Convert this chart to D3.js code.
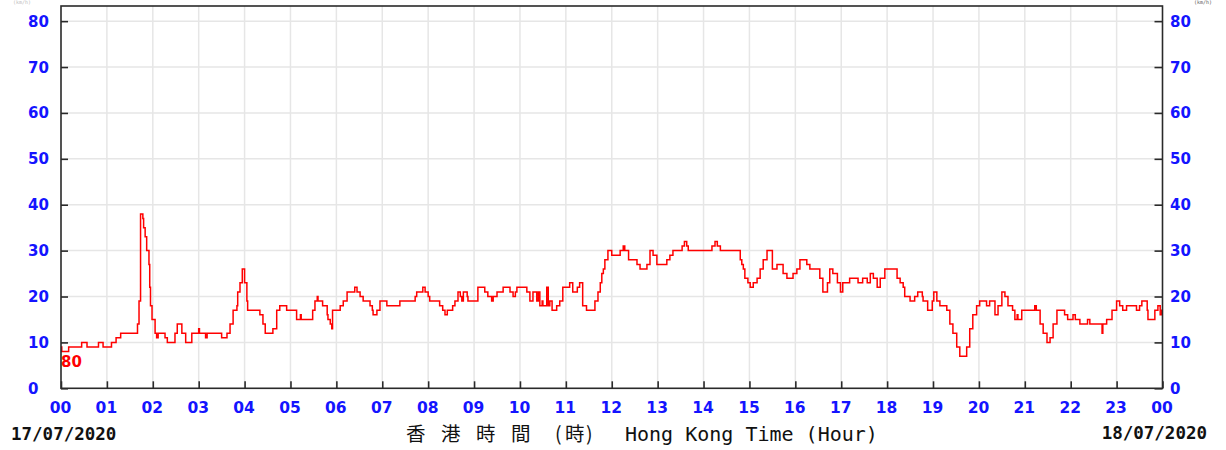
<!DOCTYPE html>
<html>
<head>
<meta charset="utf-8">
<script src="https://cdn.jsdelivr.net/npm/d3@7"></script>
<style>
  html, body { margin: 0; padding: 0; background: #fff; }
  svg { display: block; }
</style>
</head>
<body>
<svg id="chart" width="1226" height="450"></svg>
<script>
// Wind speed (km/h) over one day, minutes after midnight
const minutes = [0,1,10,27,34,49,55,66,72,78,100,102,104,107,108,110,112,115,116,117,119,123,125,127,136,139,149,152,158,163,171,180,181,189,191,210,217,221,225,230,231,234,237,240,243,244,260,264,267,277,282,286,295,308,313,314,329,332,335,336,342,348,349,352,354,355,365,369,374,384,387,391,395,404,407,408,413,417,426,443,463,465,473,476,480,482,495,499,502,505,512,515,519,522,524,526,531,532,545,554,558,563,565,570,578,587,591,594,596,609,613,617,622,624,626,629,630,635,637,639,642,648,652,656,665,669,675,678,682,687,698,702,705,707,709,711,715,720,731,735,737,742,753,757,766,770,774,779,792,796,800,812,815,818,820,851,855,858,862,888,890,892,894,898,901,905,910,914,918,923,930,936,944,949,957,962,966,975,979,992,996,1002,1005,1009,1015,1019,1022,1031,1042,1048,1054,1058,1062,1067,1071,1077,1093,1097,1101,1103,1110,1116,1120,1126,1127,1133,1139,1141,1145,1149,1158,1162,1166,1171,1175,1184,1188,1192,1197,1201,1210,1214,1221,1225,1230,1234,1238,1244,1247,1250,1251,1256,1273,1275,1280,1284,1289,1293,1297,1302,1312,1316,1323,1326,1332,1342,1345,1361,1362,1367,1374,1380,1384,1388,1393,1406,1410,1413,1420,1421,1430,1434,1437,1439,1440];
const speeds = [9,8,9,10,9,10,9,10,11,12,14,19,38,37,35,33,30,27,22,18,15,12,11,12,11,10,12,14,12,10,12,13,12,11,12,11,12,14,17,18,21,23,26,23,19,17,16,14,12,13,17,18,17,15,16,15,17,19,20,19,18,16,15,14,13,17,18,19,21,22,21,20,19,18,17,16,17,19,18,19,20,21,22,21,20,19,18,17,16,17,18,19,21,20,19,21,20,19,22,21,20,19,20,21,22,21,20,21,22,21,19,21,19,21,18,19,18,22,18,19,17,18,19,22,23,21,22,23,18,17,19,21,23,25,26,28,30,29,30,31,30,28,27,26,27,30,29,27,28,29,30,31,32,31,30,31,32,31,30,28,27,26,24,23,22,23,24,26,28,30,26,27,25,24,25,26,28,27,26,24,21,23,26,25,23,21,23,24,23,24,23,25,24,22,24,26,24,23,22,20,19,20,21,20,19,17,19,21,19,18,17,14,12,9,7,9,13,16,18,19,18,19,16,18,21,20,18,17,15,16,15,17,18,17,14,12,10,11,14,17,16,15,16,15,14,15,14,12,14,15,17,19,18,17,18,17,18,19,17,15,17,18,16,17,17];

const hourLabels = ["00","01","02","03","04","05","06","07","08","09","10","11","12","13","14","15","16","17","18","19","20","21","22","23","00"];
const yTicks = [0,10,20,30,40,50,60,70,80];
const startDate = "17/07/2020";
const endDate = "18/07/2020";
const unitLabel = "(km/h)";
const firstValueLabel = "80";
const titleZh = ["香","港","時","間","(","時",")"];
const titleEn = "Hong Kong Time (Hour)";

const svg = d3.select("#chart");
const plot = { left: 61, right: 1162.5, top: 6, bottom: 388.3 };

const x = d3.scaleLinear().domain([0, 1440]).range([plot.left, plot.right]);
const y = d3.scaleLinear().domain([0, 83.3]).range([plot.bottom, plot.top]);

const blue = "#1414ff";
const tickFont = "'DejaVu Sans', sans-serif";

// grid
const grid = svg.append("g");
grid.selectAll("line.v").data(d3.range(1, 24)).join("line")
  .attr("x1", d => x(d * 60)).attr("x2", d => x(d * 60))
  .attr("y1", plot.top).attr("y2", plot.bottom)
  .attr("stroke", "#e6e6e6").attr("stroke-width", 1.5);
grid.selectAll("line.h").data(yTicks.filter(d => d > 0)).join("line")
  .attr("x1", plot.left).attr("x2", plot.right)
  .attr("y1", d => y(d)).attr("y2", d => y(d))
  .attr("stroke", "#e6e6e6").attr("stroke-width", 1.5);

// data line
const line = d3.line()
  .x((d, i) => x(minutes[i]))
  .y(d => y(d))
  .curve(d3.curveStepAfter);
svg.append("path")
  .attr("d", line(speeds))
  .attr("fill", "none")
  .attr("stroke", "#ff0000")
  .attr("stroke-width", 1.5);

// frame
svg.append("rect")
  .attr("x", plot.left).attr("y", plot.top)
  .attr("width", plot.right - plot.left).attr("height", plot.bottom - plot.top)
  .attr("fill", "none").attr("stroke", "#2a2a2a").attr("stroke-width", 1.6);

// axes (ticks drawn inward)
const leftAxis = d3.axisRight(y).tickValues(yTicks).tickSize(7).tickFormat("");
const rightAxis = d3.axisLeft(y).tickValues(yTicks).tickSize(8).tickFormat("");
const bottomAxis = d3.axisTop(x).tickValues(d3.range(0, 25).map(h => h * 60)).tickSize(7).tickFormat("");
[[leftAxis, `translate(${plot.left},0)`], [rightAxis, `translate(${plot.right},0)`], [bottomAxis, `translate(0,${plot.bottom})`]]
  .forEach(([ax, tr]) => {
    const g = svg.append("g").attr("transform", tr).call(ax);
    g.select(".domain").remove();
    g.selectAll(".tick line").attr("stroke", "#2a2a2a").attr("stroke-width", 1.6);
  });

// y tick labels, both sides
[28, 1170].forEach(lx => {
  svg.append("g").selectAll("text").data(yTicks).join("text")
    .attr("x", lx).attr("y", d => y(d) + 5.5)
    .attr("font-family", tickFont).attr("font-weight", "bold").attr("font-size", 15)
    .attr("fill", blue).text(d => d);
});

// hour labels
svg.append("g").selectAll("text").data(hourLabels).join("text")
  .attr("x", (d, i) => x(i * 60) - 0.5).attr("y", 412.5)
  .attr("text-anchor", "middle")
  .attr("font-family", tickFont).attr("font-weight", "bold").attr("font-size", 15.5)
  .attr("fill", blue).text(d => d);

// dates
const dateFont = "'DejaVu Sans Mono', monospace";
svg.append("text").attr("x", 11).attr("y", 440)
  .attr("font-family", dateFont).attr("font-weight", "bold").attr("font-size", 17.5)
  .attr("fill", "#111").text(startDate);
svg.append("text").attr("x", 1207).attr("y", 439).attr("text-anchor", "end")
  .attr("font-family", dateFont).attr("font-weight", "bold").attr("font-size", 17.5)
  .attr("fill", "#111").text(endDate);

// axis title
const zhX = [406, 441, 476, 511, 555, 565, 586];
const zh = svg.append("text").attr("y", 441)
  .attr("font-family", "'Noto Sans CJK TC', sans-serif").attr("font-size", 19.5).attr("fill", "#111");
zh.selectAll("tspan").data(titleZh).join("tspan")
  .attr("x", (d, i) => zhX[i]).text(d => d);
svg.append("text").attr("x", 625).attr("y", 441)
  .attr("font-family", dateFont).attr("font-size", 20).attr("fill", "#111")
  .text(titleEn);

// unit labels along the top edge
svg.append("text").attr("x", 13).attr("y", 4)
  .attr("font-family", dateFont).attr("font-size", 5).attr("fill", "#bbb").text(unitLabel);
svg.append("text").attr("x", 1212).attr("y", 4).attr("text-anchor", "end")
  .attr("font-family", dateFont).attr("font-size", 5).attr("fill", "#555").text(unitLabel);

// first reading label
svg.append("text").attr("x", 61).attr("y", 367)
  .attr("font-family", tickFont).attr("font-weight", "bold").attr("font-size", 15)
  .attr("fill", "#ff0000").text(firstValueLabel);
</script>
</body>
</html>
